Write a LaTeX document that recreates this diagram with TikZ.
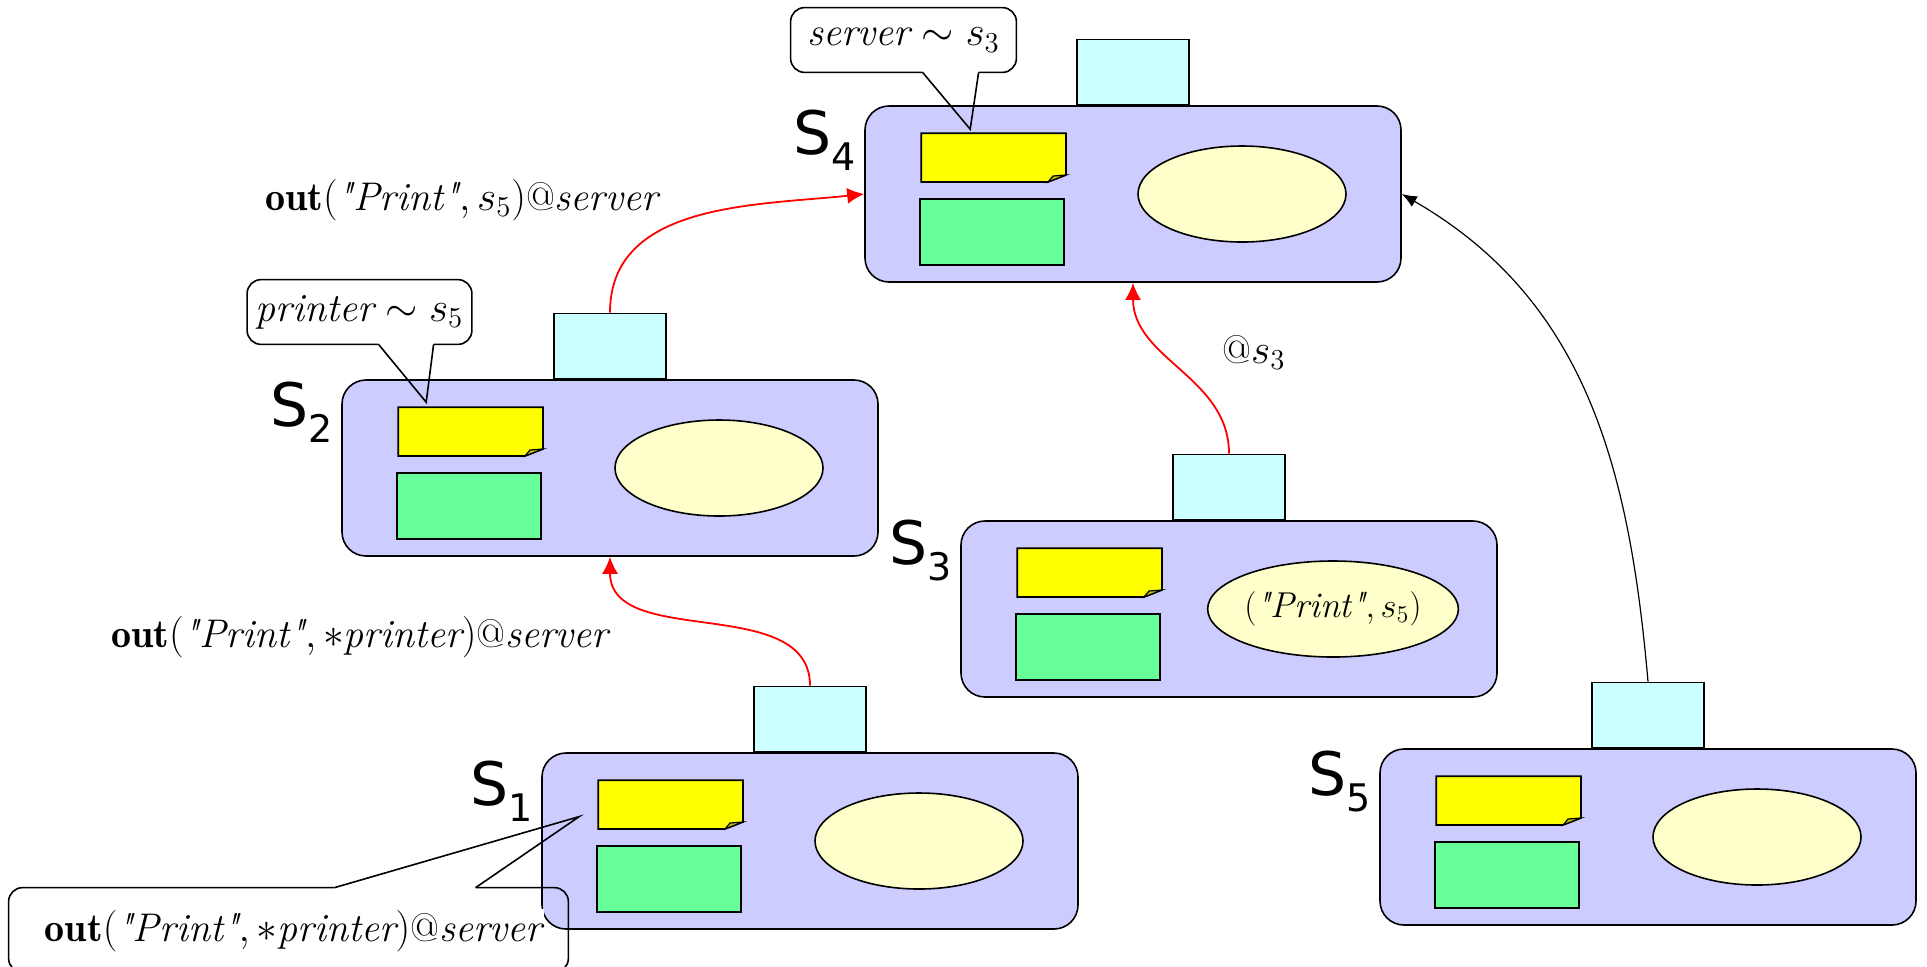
\documentclass[tikz,border=0pt]{standalone}
\usepackage{fontspec}
\newfontfamily\sitefont{DejaVu Sans}
\usetikzlibrary{calc,arrows.meta,shapes.geometric}

\definecolor{siteblue}{RGB}{204,204,255}
\definecolor{portcyan}{RGB}{204,255,255}
\definecolor{noteyellow}{RGB}{255,255,0}
\definecolor{foldolive}{RGB}{190,190,0}
\definecolor{procgreen}{RGB}{102,255,153}
\definecolor{tuplecream}{RGB}{255,255,204}

\newcommand\sitename[1]{{\sitefont\fontsize{30}{30}\selectfont S\raisebox{-8pt}{\fontsize{19}{19}\selectfont #1}}}
\newcommand\qprint{\textit{\textquotedbl Print\textquotedbl}}

% yellow sheet with a folded corner, drawn on an empty node
\newcommand\dogear[1]{%
  \draw[line width=0.8pt, fill=noteyellow] (#1.north west) -- (#1.north east)
    -- ($(#1.south east)+(0,7)$) -- ($(#1.south east)+(-18,0)$) -- (#1.south west) -- cycle;
  \draw[line width=0.6pt, fill=foldolive] ($(#1.south east)+(-18,0)$)
    -- ($(#1.south east)+(-13,6)$) -- ($(#1.south east)+(0,7)$) -- cycle;
}

\begin{document}
\begin{tikzpicture}[>={Latex[length=8.5pt,width=8pt]}, x=0.5pt, y=0.5pt]

  \tikzstyle{site} = [draw, line width=0.8pt, fill=siteblue, rectangle, rounded corners=12pt, minimum width=268pt, minimum height=88pt, inner sep=0pt]
  \tikzstyle{sitePort} = [draw, line width=0.8pt, fill=portcyan, rectangle, minimum width=56pt, minimum height=32.5pt, inner sep=0pt, anchor=south]
  \tikzstyle{siteNote} = [rectangle, minimum width=72pt, minimum height=24pt, inner sep=0pt, anchor=north west]
  \tikzstyle{siteProc} = [draw, line width=0.8pt, fill=procgreen, rectangle, minimum width=72pt, minimum height=33pt, inner sep=0pt, anchor=north west]
  \tikzstyle{siteTuples} = [draw, line width=0.8pt, fill=tuplecream, ellipse, minimum width=104pt, minimum height=48pt, inner sep=0pt, font={\fontsize{18}{22}\selectfont}]
  \tikzstyle{siteLabel} = [anchor=base east, inner sep=0pt]
  \tikzstyle{msgEdge} = [red, line width=0.9pt, ->]
  \tikzstyle{moveEdge} = [black, line width=0.6pt, -{Latex[length=7.5pt,width=6pt]}]
  \tikzstyle{msgLabel} = [inner sep=0pt, font={\fontsize{20}{24}\selectfont}]
  \tikzstyle{bubbleText} = [rectangle, inner sep=0pt, font={\fontsize{20}{24}\selectfont}]
  \tikzstyle{bubbleEdge} = [black, line width=0.8pt, rounded corners=7pt]
  \tikzstyle{bubblePointer} = [black, line width=0.8pt]

  \useasboundingbox (0,0) rectangle (1927,-966);

  % site s4
  \node[site, name=s4] at (1133,-194) {};
  \node[sitePort, name=p4] at (s4.north) {};
  \node[siteNote, name=n4] at ($(s4.north west)+(57,-28)$) {};
  \dogear{n4}
  \node[siteProc, name=r4] at ($(s4.north west)+(55,-93)$) {};
  \node[siteTuples, name=t4] at ($(s4.center)+(109,0)$) {};
  \node[siteLabel, name=l4] at ($(s4.north west)+(-8,-49)$) {\sitename{4}};

  % site s2
  \node[site, name=s2] at (610,-468) {};
  \node[sitePort, name=p2] at (s2.north) {};
  \node[siteNote, name=n2] at ($(s2.north west)+(57,-28)$) {};
  \dogear{n2}
  \node[siteProc, name=r2] at ($(s2.north west)+(55,-93)$) {};
  \node[siteTuples, name=t2] at ($(s2.center)+(109,0)$) {};
  \node[siteLabel, name=l2] at ($(s2.north west)+(-8,-47)$) {\sitename{2}};

  % site s3
  \node[site, name=s3] at (1229,-609) {};
  \node[sitePort, name=p3] at (s3.north) {};
  \node[siteNote, name=n3] at ($(s3.north west)+(57,-28)$) {};
  \dogear{n3}
  \node[siteProc, name=r3] at ($(s3.north west)+(55,-93)$) {};
  \node[siteTuples, name=t3] at ($(s3.center)+(104,0)$) {$(\qprint, s_5)$};
  \node[siteLabel, name=l3] at ($(s3.north west)+(-8,-44)$) {\sitename{3}};

  % site s1
  \node[site, name=s1] at (810,-841) {};
  \node[sitePort, name=p1] at (s1.north) {};
  \node[siteNote, name=n1] at ($(s1.north west)+(57,-28)$) {};
  \dogear{n1}
  \node[siteProc, name=r1] at ($(s1.north west)+(55,-93)$) {};
  \node[siteTuples, name=t1] at ($(s1.center)+(109,0)$) {};
  \node[siteLabel, name=l1] at ($(s1.north west)+(-8,-53)$) {\sitename{1}};

  % site s5
  \node[site, name=s5] at (1648,-837) {};
  \node[sitePort, name=p5] at (s5.north) {};
  \node[siteNote, name=n5] at ($(s5.north west)+(57,-28)$) {};
  \dogear{n5}
  \node[siteProc, name=r5] at ($(s5.north west)+(55,-93)$) {};
  \node[siteTuples, name=t5] at ($(s5.center)+(109,0)$) {};
  \node[siteLabel, name=l5] at ($(s5.north west)+(-8,-47)$) {\sitename{5}};

  % messages travel from port to port
  \draw[msgEdge] (p1.north) to[out=90,in=-90] (s2.south);
  \draw[msgEdge] (p2.north) to[out=90,in=186] (s4.west);
  \draw[msgEdge] (p3.north) to[out=90,in=-90] (s4.south);
  \draw[moveEdge] (p5.north) to[out=95,in=-30] (s4.east);

  \node[msgLabel, anchor=base west, name=m2] at (265,-210) {$\mathbf{out}(\qprint, s_5)\mbox{@}\mathit{server}$};
  \node[msgLabel, anchor=base west, name=m1] at (111,-647) {$\mathbf{out}(\qprint, {*}\mathit{printer})\mbox{@}\mathit{server}$};
  \node[msgLabel, anchor=base west, name=m3] at (1222,-363) {$\mbox{@}s_3$};

  % callout on s4
  \node[bubbleText, minimum width=112.5pt, minimum height=32pt, name=b4] at (903.5,-40) {$\mathit{server}\sim s_3$};
  \coordinate (b4tip) at ($(n4.north west)+(49,4)$);
  \draw[bubbleEdge] ($(b4.south west)+(132,0)$) -- (b4.south west) -- (b4.north west)
    -- (b4.north east) -- (b4.south east) -- ($(b4.south west)+(188,0)$);
  \draw[bubblePointer] ($(b4.south west)+(132,0)$) -- (b4tip) -- ($(b4.south west)+(188,0)$);

  % callout on s2
  \node[bubbleText, minimum width=112pt, minimum height=32pt, name=b2] at (359.5,-312) {$\mathit{printer}\sim s_5$};
  \coordinate (b2tip) at ($(n2.north west)+(28,5)$);
  \draw[bubbleEdge] ($(b2.south west)+(131.5,0)$) -- (b2.south west) -- (b2.north west)
    -- (b2.north east) -- (b2.south east) -- ($(b2.south west)+(186.5,0)$);
  \draw[bubblePointer] ($(b2.south west)+(131.5,0)$) -- (b2tip) -- ($(b2.south west)+(186.5,0)$);

  % callout on s1
  \node[bubbleText, minimum width=279.5pt, minimum height=42pt, name=b1] at (288.5,-930) {};
  \node[bubbleText, fill=white, inner sep=1pt, name=c1] at (293.5,-931.5) {$\mathbf{out}(\qprint, {*}\mathit{printer})\mbox{@}\mathit{server}$};
  \coordinate (b1tip) at ($(n1.west)+(-19,-12)$);
  \draw[bubbleEdge] ($(b1.north west)+(326,0)$) -- (b1.north west) -- (b1.south west)
    -- (b1.south east) -- (b1.north east) -- ($(b1.north west)+(467,0)$);
  \draw[bubblePointer] ($(b1.north west)+(326,0)$) -- (b1tip) -- ($(b1.north west)+(467,0)$);

\end{tikzpicture}
\end{document}
